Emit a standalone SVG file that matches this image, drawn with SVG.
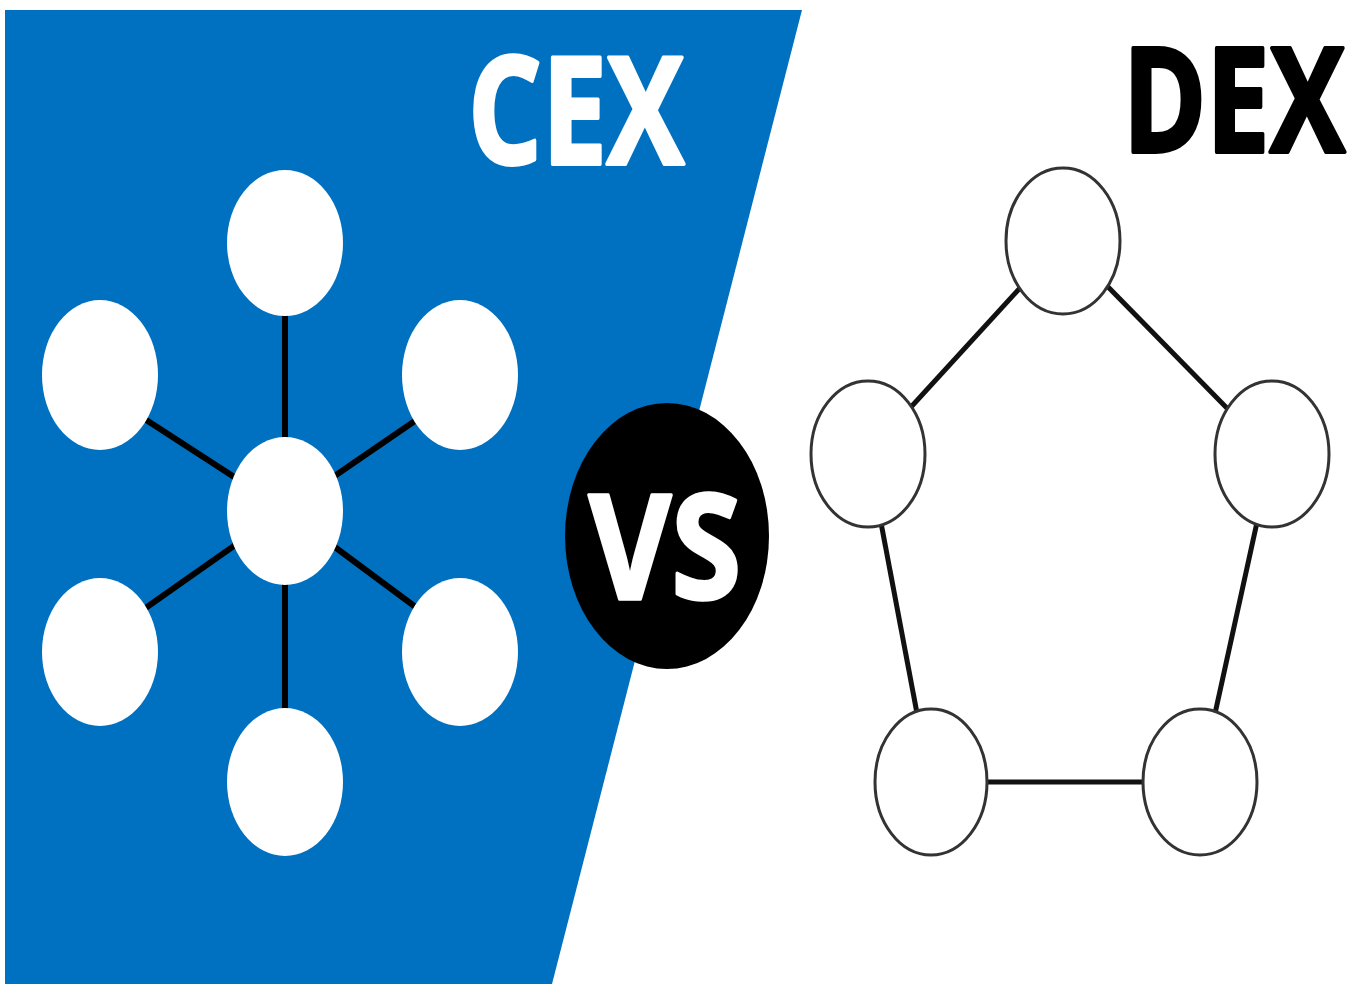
<svg xmlns="http://www.w3.org/2000/svg" width="1360" height="984" viewBox="0 0 1360 984">
<style>
.title{font-family:"Open Sans","Liberation Sans",sans-serif;font-weight:700;stroke-width:3;stroke-linejoin:round}
.cexnode{fill:#ffffff}
.dexnode{fill:#ffffff;stroke:#333333;stroke-width:3}
.cexlink{stroke:#000000;stroke-width:6}
.dexlink{stroke:#111111;stroke-width:5}
</style>
<rect x="0" y="0" width="1360" height="984" fill="#ffffff"/>
<polygon id="cex-panel" points="5,10 802,10 552,984 5,984" fill="#0070c0"/>
<text class="title" fill="#ffffff" stroke="#ffffff" font-size="116" transform="translate(468,164) scale(1,1.28)">CEX</text>
<text class="title" fill="#000000" stroke="#000000" font-size="113" text-anchor="end" transform="translate(1345,152) scale(1,1.28)">DEX</text>
<g id="connectors">
  <line class="cexlink" x1="285" y1="510" x2="285" y2="243"/>
  <line class="cexlink" x1="285" y1="510" x2="285" y2="782"/>
  <line class="cexlink" x1="285" y1="510" x2="100" y2="390"/>
  <line class="cexlink" x1="285" y1="510" x2="460" y2="390"/>
  <line class="cexlink" x1="285" y1="510" x2="100" y2="640"/>
  <line class="cexlink" x1="285" y1="510" x2="460" y2="640"/>
  <line class="dexlink" x1="1063" y1="241" x2="868" y2="454"/>
  <line class="dexlink" x1="1063" y1="241" x2="1272" y2="454"/>
  <line class="dexlink" x1="868" y1="454" x2="930" y2="782"/>
  <line class="dexlink" x1="1272" y1="454" x2="1200" y2="782"/>
  <line class="dexlink" x1="930" y1="782" x2="1200" y2="782"/>
</g>
<g id="cex-top"><ellipse class="cexnode" cx="285" cy="243" rx="58" ry="73"/></g>
<g id="cex-upper-left"><ellipse class="cexnode" cx="100" cy="375" rx="58" ry="75"/></g>
<g id="cex-upper-right"><ellipse class="cexnode" cx="460" cy="375" rx="58" ry="75"/></g>
<g id="cex-center"><ellipse class="cexnode" cx="285" cy="511" rx="58" ry="74"/></g>
<g id="cex-lower-left"><ellipse class="cexnode" cx="100" cy="652" rx="58" ry="74"/></g>
<g id="cex-lower-right"><ellipse class="cexnode" cx="460" cy="652" rx="58" ry="74"/></g>
<g id="cex-bottom"><ellipse class="cexnode" cx="285" cy="782" rx="58" ry="74"/></g>
<g id="vs">
  <ellipse cx="667" cy="536" rx="102" ry="133" fill="#000000"/>
  <text class="title" fill="#ffffff" stroke="#ffffff" font-size="127" text-anchor="middle" transform="translate(665,599) scale(1,1.15)">VS</text>
</g>
<g id="dex-top"><ellipse class="dexnode" cx="1063" cy="241" rx="57" ry="73"/></g>
<g id="dex-left"><ellipse class="dexnode" cx="868" cy="454" rx="57" ry="73"/></g>
<g id="dex-right"><ellipse class="dexnode" cx="1272" cy="454" rx="57" ry="73"/></g>
<g id="dex-bottom-left"><ellipse class="dexnode" cx="931" cy="782" rx="56" ry="73"/></g>
<g id="dex-bottom-right"><ellipse class="dexnode" cx="1200" cy="782" rx="57" ry="73"/></g>
</svg>
